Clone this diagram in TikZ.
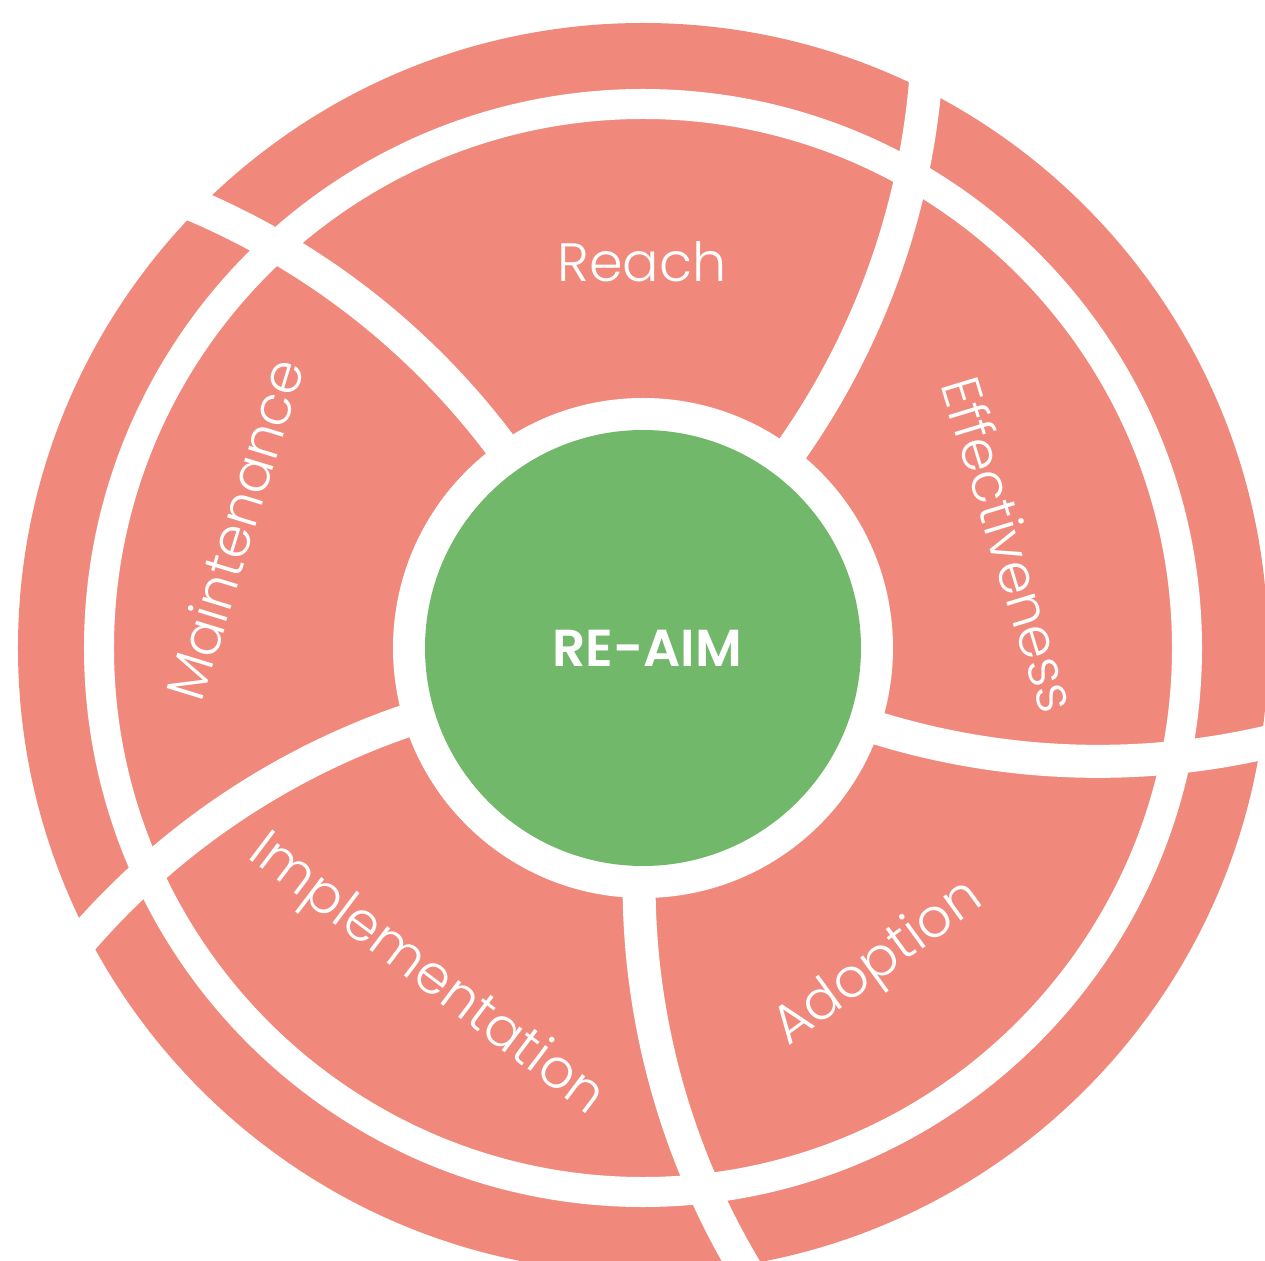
\documentclass[tikz,border=0pt]{standalone}
\usepackage{fontspec}
\setmainfont{Poppins}[UprightFont=* Light, BoldFont=* SemiBold]
\definecolor{salmon}{RGB}{240,137,123}
\definecolor{leaf}{RGB}{114,184,106}
\begin{document}
\begin{tikzpicture}[x=1pt,y=1pt,
  sep/.style={draw=white, line width=33pt},
  lbl/.style={text=white, font=\fontsize{54}{58}\selectfont, anchor=base, inner sep=0pt},
]
\useasboundingbox (-643,-612) rectangle (622,648);
\clip (-643,-612) rectangle (622,648);
\fill[white] (-643,-612) rectangle (622,648);
\fill[salmon] (0,0) circle[radius=625pt];
\draw[white, line width=30pt] (0,0) circle[radius=544pt];
\foreach \k in {0,...,4} {
  \draw[sep, rotate=-72*\k] (-106.0,149.5) arc[start angle=32, end angle=71, radius=751.4pt];
}
\fill[white] (0,0) circle[radius=250pt];
\node[circle, fill=leaf, minimum size=436pt, inner sep=0pt] (core) at (0,0) {};
\node[text=white, inner sep=0pt, font=\fontsize{52}{56}\selectfont\bfseries] (title) at (4,0) {RE-AIM};
\node[lbl] (reach) at (-1,366) {Reach};
\node[lbl, rotate=73] (maint) at (-389.7,113) {Maintenance};
\node[lbl, rotate=-73] (eff) at (347.7,98) {Effectiveness};
\node[lbl, rotate=-37] (impl) at (-225.2,-338.6) {Implementation};
\node[lbl, rotate=36] (adop) at (243.5,-327.3) {Adoption};
\end{tikzpicture}
\end{document}
